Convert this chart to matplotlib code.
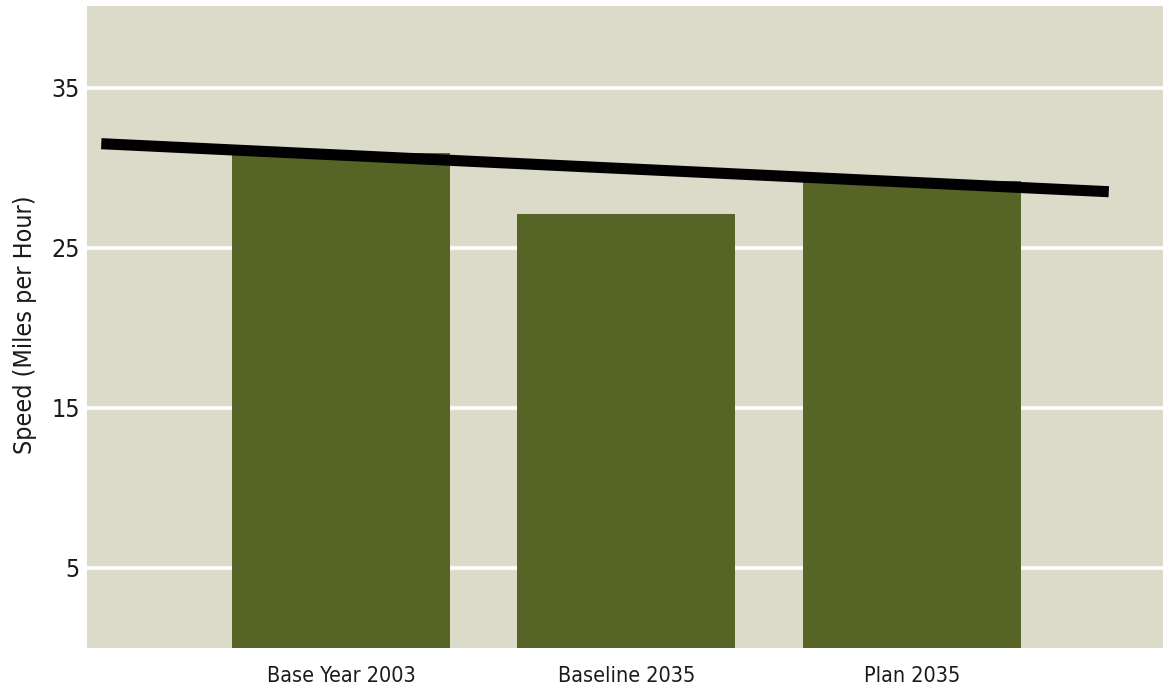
import matplotlib
matplotlib.use("Agg")
import matplotlib.pyplot as plt

# average speeds by scenario
scenarios = ["Base Year 2003", "Baseline 2035", "Plan 2035"]
speeds = [30.9, 27.1, 29.2]

# trend line drawn across the bars
trend_x = [-0.84, 2.69]
trend_y = [31.5, 28.5]

yticks = [5, 15, 25, 35]

plt.rcParams['font.family'] = ['DejaVu Sans']
plt.rcParams['font.stretch'] = 'condensed'

fig = plt.figure(figsize=(11.63, 6.89), dpi=100)
ax = fig.add_axes([0.0748, 0.0595, 0.9252, 0.9318])
ax.set_facecolor("#dcdac8")

ax.bar(range(len(scenarios)), speeds, width=0.764, color="#566526", zorder=2)
ax.plot(trend_x, trend_y, color="black", linewidth=8, solid_capstyle="butt", zorder=3)

ax.set_xlim(-0.89, 2.88)
ax.set_ylim(0, 40.1)
ax.set_yticks(yticks)
ax.set_xticks(range(len(scenarios)))
ax.set_xticklabels(scenarios, fontsize=15.5)
ax.tick_params(axis="both", length=0, colors="#1a1a1a")
ax.tick_params(axis="y", pad=5, labelsize=18)
ax.tick_params(axis="x", pad=13)
ax.yaxis.grid(True, color="white", linewidth=2.6, zorder=1)
ax.set_axisbelow(True)
for s in ax.spines.values():
    s.set_visible(False)

ax.set_ylabel("Speed (Miles per Hour)", fontsize=18, color="#1a1a1a")
ax.yaxis.set_label_coords(-0.046, 0.503)

fig.savefig("out.png", dpi=100)
